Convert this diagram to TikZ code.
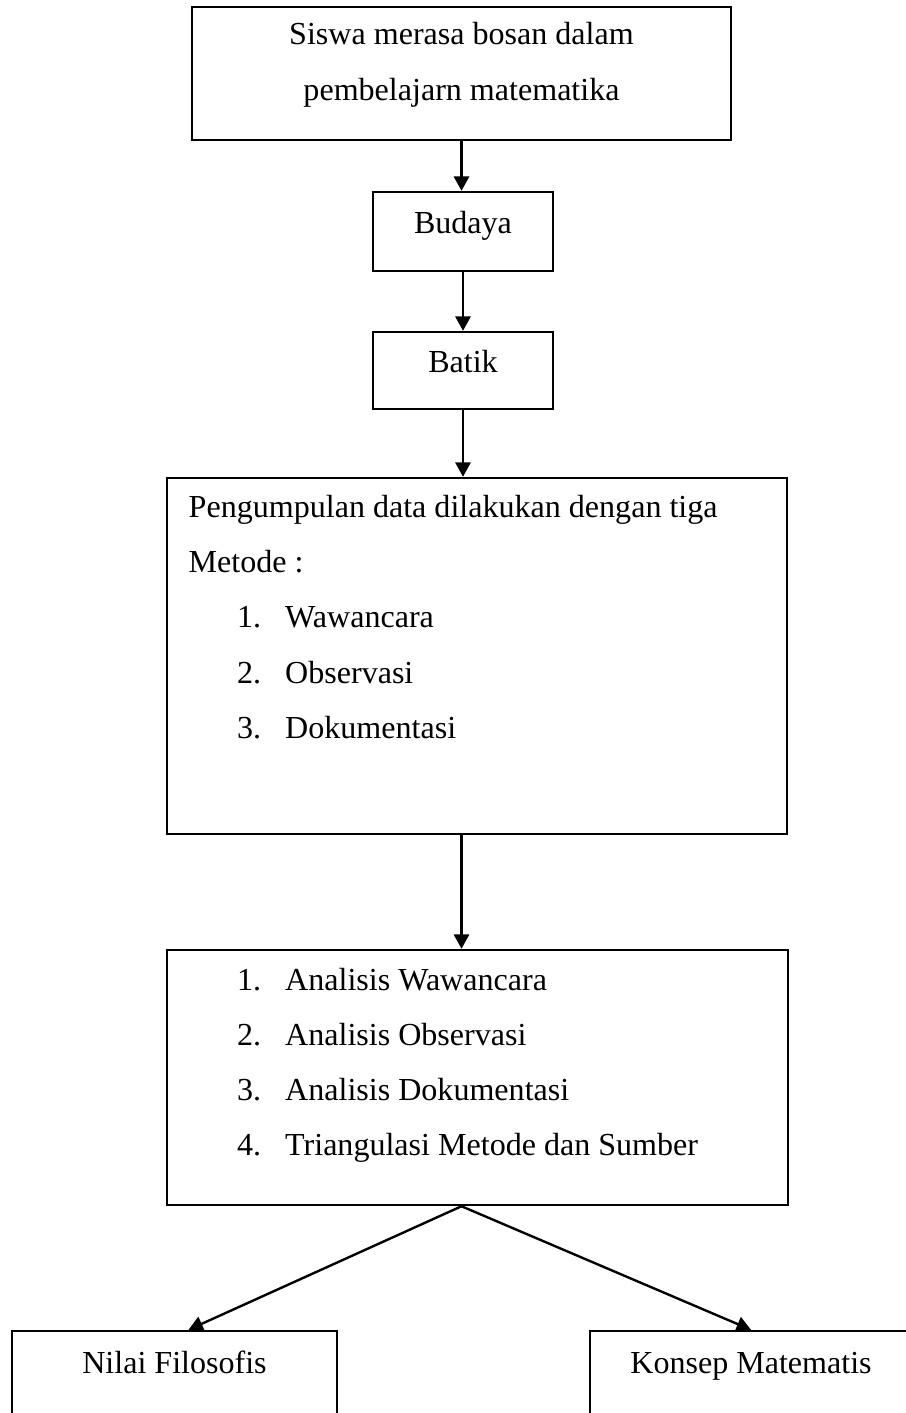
\documentclass[tikz,border=0pt]{standalone}
\usepackage{fontspec}
\setmainfont{Liberation Serif}
\usetikzlibrary{arrows.meta}

\begin{document}
\begin{tikzpicture}[x=0.025cm, y=-0.025cm, line width=1.7pt,
    every node/.style={font=\fontsize{22.8}{27}\selectfont},
    kotak/.style={draw, rectangle, inner sep=0pt},
    teks/.style={inner sep=0pt, anchor=base},
    teksk/.style={inner sep=0pt, anchor=base west},
    panah/.style={-{Triangle[length=0.36cm, width=0.38cm]}}]
  \clip (0,0) rectangle (906,1413);
  % kotak-kotak
  \node[kotak, minimum width=13.475cm, minimum height=3.325cm] (masalah) at (461.5,73.5) {};
  \node[kotak, minimum width=4.5cm, minimum height=1.975cm] (budaya) at (463,231.5) {};
  \node[kotak, minimum width=4.5cm, minimum height=1.925cm] (batik) at (463,370.5) {};
  \node[kotak, minimum width=15.5cm, minimum height=8.9cm] (metode) at (477,656) {};
  \node[kotak, minimum width=15.525cm, minimum height=6.375cm] (analisis) at (477.5,1077.5) {};
  \node[kotak, minimum width=8.125cm, minimum height=4cm] (filosofis) at (174.5,1411) {};
  \node[kotak, minimum width=8.05cm, minimum height=4cm] (matematis) at (751,1411) {};
  % teks
  \node[teks] (m1) at (461.5,45) {Siswa merasa bosan dalam};
  \node[teks] (m2) at (461.5,100) {pembelajarn matematika};
  \node[teks] (tbudaya) at (463,233) {Budaya};
  \node[teks] (tbatik) at (463,372) {Batik};
  \node[teksk] (p1) at (187.5,517) {Pengumpulan data dilakukan dengan tiga};
  \node[teksk] (p2) at (187.5,572) {Metode :};
  \foreach \n/\y/\isi in {1/627/Wawancara, 2/683/Observasi, 3/738/Dokumentasi} {
    \node[teksk] (pn\n) at (236,\y) {\n.};
    \node[teksk] (pi\n) at (284,\y) {\isi};
  }
  \foreach \n/\y/\isi in {1/990/Analisis Wawancara, 2/1045/Analisis Observasi,
      3/1100/Analisis Dokumentasi, 4/1155/Triangulasi Metode dan Sumber} {
    \node[teksk] (an\n) at (236,\y) {\n.};
    \node[teksk] (ai\n) at (284,\y) {\isi};
  }
  \node[teks] (tfilosofis) at (174.5,1373) {Nilai Filosofis};
  \node[teks] (tmatematis) at (751,1373) {Konsep Matematis};
  % panah
  \draw[panah] (masalah.south) -- (masalah.south |- budaya.north);
  \draw[panah] (budaya.south) -- (batik.north);
  \draw[panah] (batik.south) -- (batik.south |- metode.north);
  \draw[panah] (metode.south -| masalah.south) -- (analisis.north -| masalah.south);
  \draw[panah] (analisis.south -| masalah.south) -- ([xshift=0.35cm]filosofis.north);
  \draw[panah] (analisis.south -| masalah.south) -- (matematis.north);
\end{tikzpicture}
\end{document}
